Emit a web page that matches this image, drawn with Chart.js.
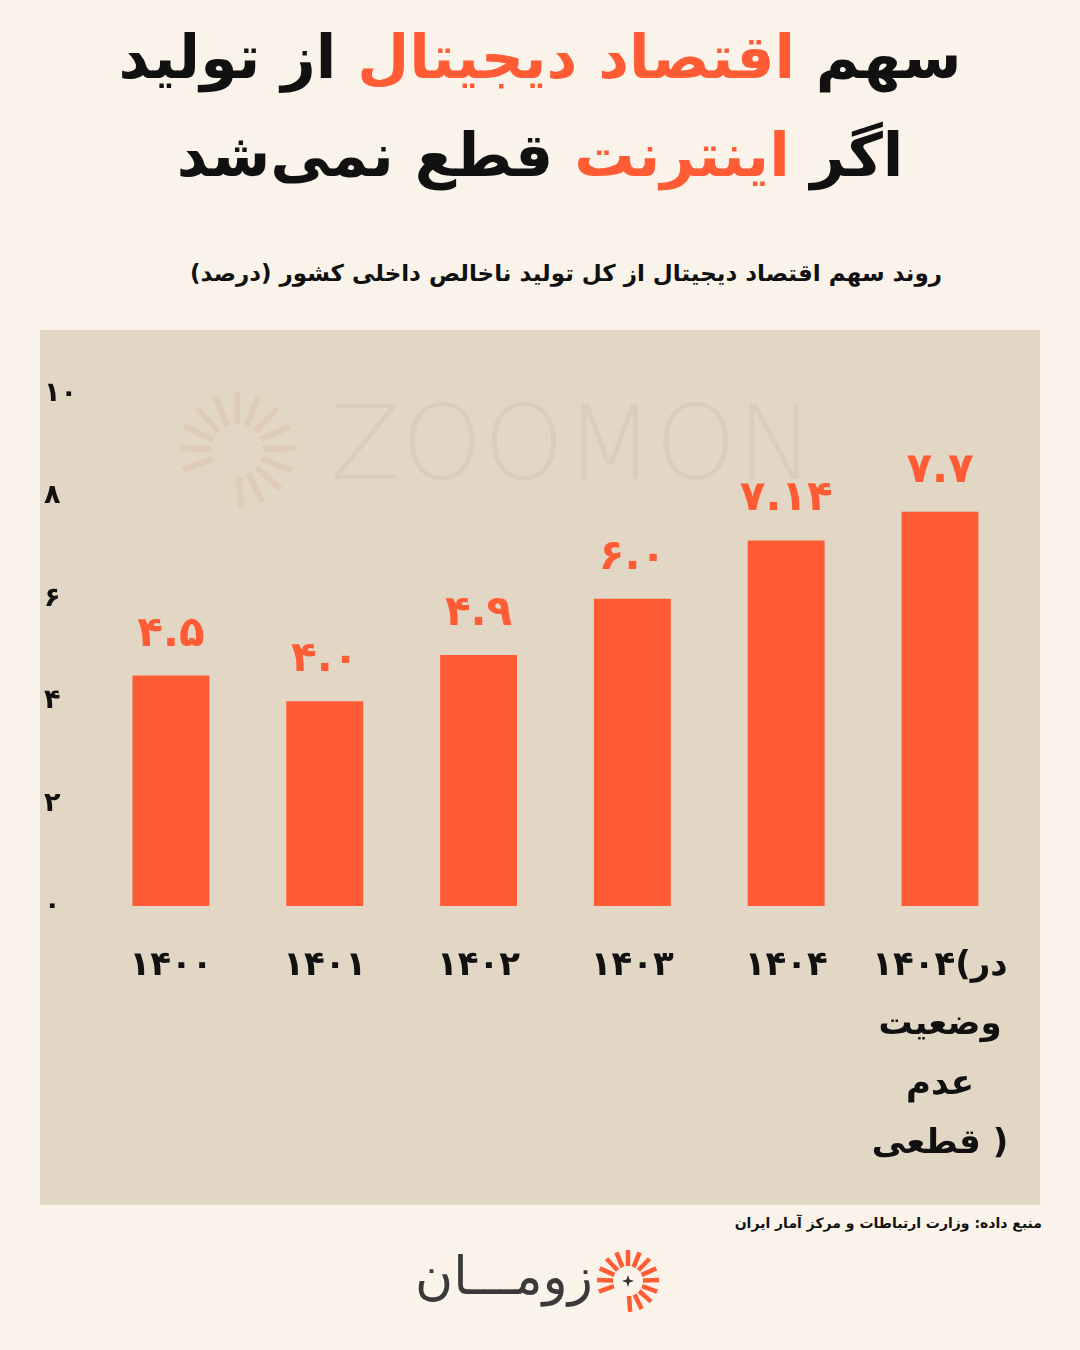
<!DOCTYPE html>
<html lang="fa">
<head>
<meta charset="utf-8">
<script src="https://cdn.jsdelivr.net/npm/chart.js@4.4.1/dist/chart.umd.min.js"></script>
<style>
  html, body { margin: 0; padding: 0; }
  body {
    width: 1080px; height: 1350px; background: #faf3ea; position: relative; overflow: hidden;
    font-family: "DejaVu Sans", "Noto Sans", sans-serif; color: #111;
  }
  .title {
    position: absolute; top: 8px; left: 0; width: 1080px; text-align: center;
    font-size: 60px; font-weight: bold; line-height: 98px;
  }
  .title .hl { color: #ff5c35; }
  .subtitle {
    position: absolute; top: 260px; right: 138px; font-size: 23px; font-weight: bold;
  }
  .panel {
    position: absolute; left: 40px; top: 330px; width: 1000px; height: 875px; background: #e2d6c4;
  }
  .source {
    position: absolute; top: 1215px; right: 38px; font-size: 14px; font-weight: bold;
  }
  .logo {
    position: absolute; top: 1240px; left: 415px; width: 250px; height: 80px;
  }
  .logo .word {
    position: absolute; left: 0; top: 6px; font-size: 52px; color: #3a3a3a; font-weight: normal;
  }
  .logo svg { position: absolute; left: 178px; top: 6px; }
</style>
</head>
<body>
<div class="title" dir="rtl">
  <div>سهم <span class="hl">اقتصاد دیجیتال</span> از تولید</div>
  <div>اگر <span class="hl">اینترنت</span> قطع نمی‌شد</div>
</div>
<div class="subtitle" dir="rtl">روند سهم اقتصاد دیجیتال از کل تولید ناخالص داخلی کشور (درصد)</div>
<div class="panel"><canvas id="chart" width="1000" height="875"></canvas></div>
<div class="source" dir="rtl">منبع داده: وزارت ارتباطات و مرکز آمار ایران</div>
<div class="logo">
  <div class="word" dir="rtl">زومـــان</div>
  <svg id="sun" width="70" height="70" viewBox="-35 -35 70 70"></svg>
</div>
<script>
const categories = [
  '۱۴۰۰', '۱۴۰۱', '۱۴۰۲', '۱۴۰۳', '۱۴۰۴',
  ['۱۴۰۴(در', 'وضعیت', 'عدم', 'قطعی )']
];
const shareValues = [4.5, 4.0, 4.9, 6.0, 7.14, 7.7];
const valueLabels = ['۴.۵', '۴.۰', '۴.۹', '۶.۰', '۷.۱۴', '۷.۷'];
const yTickLabels = ['۰', '۲', '۴', '۶', '۸', '۱۰'];

const orange = '#ff5c35';

// logo rays
(function () {
  const svg = document.getElementById('sun');
  let s = '';
  for (let i = 0; i < 14; i++) {
    const a = (-200 + i * 22) * Math.PI / 180;
    const r1 = 15, r2 = 31;
    s += `<line x1="${(r1 * Math.cos(a)).toFixed(1)}" y1="${(r1 * Math.sin(a)).toFixed(1)}" x2="${(r2 * Math.cos(a)).toFixed(1)}" y2="${(r2 * Math.sin(a)).toFixed(1)}" stroke="${orange}" stroke-width="4.5"/>`;
  }
  s += '<path d="M0,-6 L1.5,-1.5 L6,0 L1.5,1.5 L0,6 L-1.5,1.5 L-6,0 L-1.5,-1.5 Z" fill="#333"/>';
  svg.innerHTML = s;
})();

const watermark = {
  id: 'watermark',
  beforeDatasetsDraw(chart) {
    const ctx = chart.ctx;
    ctx.save();
    ctx.fillStyle = 'rgba(120, 100, 80, 0.07)';
    ctx.font = '300 104px "DejaVu Sans", sans-serif';
    ctx.textAlign = 'left';
    ctx.textBaseline = 'middle';
    ctx.fillText('ZOOMON', 290, 122);
    ctx.strokeStyle = 'rgba(200, 120, 80, 0.10)';
    ctx.lineWidth = 6;
    for (let i = 0; i < 14; i++) {
      const a = (-200 + i * 22) * Math.PI / 180;
      ctx.beginPath();
      ctx.moveTo(197 + 26 * Math.cos(a), 120 + 26 * Math.sin(a));
      ctx.lineTo(197 + 58 * Math.cos(a), 120 + 58 * Math.sin(a));
      ctx.stroke();
    }
    ctx.restore();
  }
};

const barLabels = {
  id: 'barLabels',
  afterDatasetsDraw(chart) {
    const ctx = chart.ctx;
    const meta = chart.getDatasetMeta(0);
    ctx.save();
    ctx.fillStyle = orange;
    ctx.font = 'bold 42px "DejaVu Sans", sans-serif';
    ctx.textAlign = 'center';
    ctx.textBaseline = 'bottom';
    meta.data.forEach((bar, i) => {
      ctx.fillText(valueLabels[i], bar.x, bar.y - 20);
    });
    ctx.restore();
  }
};

new Chart(document.getElementById('chart'), {
  type: 'bar',
  data: {
    labels: categories,
    datasets: [{
      data: shareValues,
      backgroundColor: orange,
      borderWidth: 0,
      categoryPercentage: 1,
      barPercentage: 0.5
    }]
  },
  options: {
    responsive: false,
    animation: false,
    layout: { padding: { top: 64, right: 22, left: 4, bottom: 0 } },
    plugins: { legend: { display: false }, tooltip: { enabled: false } },
    scales: {
      x: {
        grid: { display: false, drawTicks: false },
        border: { display: false },
        ticks: {
          color: '#111',
          font: { size: 34, weight: 'bold', family: '"DejaVu Sans", sans-serif', lineHeight: 1.75 },
          padding: 30,
          maxRotation: 0,
          autoSkip: false
        },
        afterFit(axis) { axis.height = 299; }
      },
      y: {
        min: 0,
        max: 10,
        grid: { display: false, drawTicks: false },
        border: { display: false },
        ticks: {
          stepSize: 2,
          color: '#111',
          crossAlign: 'far',
          padding: 0,
          font: { size: 27, weight: 'bold', family: '"DejaVu Sans", sans-serif' },
          callback: (v, i) => yTickLabels[i]
        },
        afterFit(axis) { axis.width = 50; }
      }
    }
  },
  plugins: [watermark, barLabels]
});
</script>
</body>
</html>
